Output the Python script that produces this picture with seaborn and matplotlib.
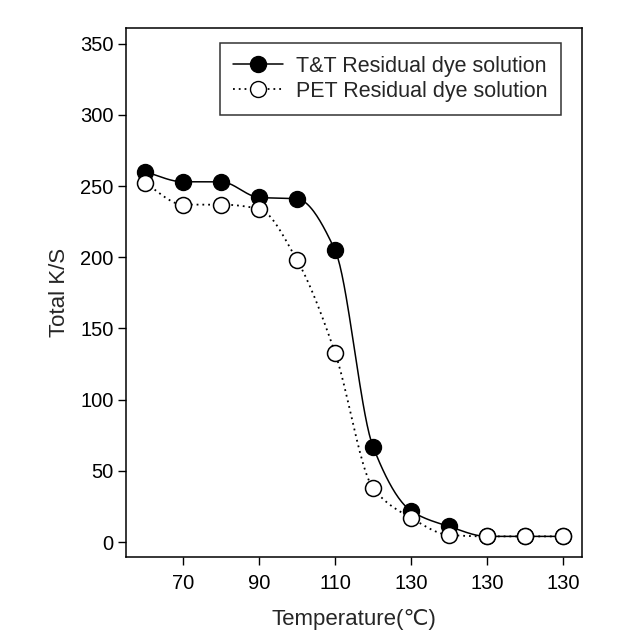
import numpy as np
import pandas as pd
import matplotlib
matplotlib.use("Agg")
import matplotlib.pyplot as plt
import seaborn as sns
from matplotlib.lines import Line2D

sns.set_style("ticks")
plt.rcParams['font.family'] = ['Liberation Sans', 'DejaVu Sans']

# data (12 sequential measurement steps)
steps = list(range(12))
tick_steps = [1, 3, 5, 7, 9, 11]
tick_labels = ["70", "90", "110", "130", "130", "130"]
tt_values = [260, 253, 253, 242, 241, 205, 67, 22, 11, 4, 4, 4]
pet_values = [252, 237, 237, 234, 198, 133, 38, 17, 5, 4, 4, 4]
series_names = ["T&T Residual dye solution", "PET Residual dye solution"]


def pchip(x, y, xs):
    x = np.asarray(x, float); y = np.asarray(y, float)
    h = np.diff(x); d = np.diff(y) / h
    m = np.zeros_like(y)
    for k in range(1, len(x) - 1):
        if d[k - 1] * d[k] > 0:
            w1 = 2 * h[k] + h[k - 1]; w2 = h[k] + 2 * h[k - 1]
            m[k] = (w1 + w2) / (w1 / d[k - 1] + w2 / d[k])
    m[0] = d[0]; m[-1] = d[-1]
    out = np.empty_like(xs)
    for i, xv in enumerate(xs):
        k = min(np.searchsorted(x, xv, side="right") - 1, len(x) - 2)
        t = (xv - x[k]) / h[k]
        h00 = 2 * t**3 - 3 * t**2 + 1; h10 = t**3 - 2 * t**2 + t
        h01 = -2 * t**3 + 3 * t**2; h11 = t**3 - t**2
        out[i] = h00 * y[k] + h10 * h[k] * m[k] + h01 * y[k + 1] + h11 * h[k] * m[k + 1]
    return out


fig = plt.figure(figsize=(6.22, 6.43), dpi=100)
ax = fig.add_axes([0.2026, 0.1337, 0.7331, 0.8228])

xs = np.linspace(0, 11, 400)
df_tt_line = pd.DataFrame({"x": xs, "y": pchip(steps, tt_values, xs)})
df_pet_line = pd.DataFrame({"x": xs, "y": pchip(steps, pet_values, xs)})
df_tt = pd.DataFrame({"x": steps, "y": tt_values})
df_pet = pd.DataFrame({"x": steps, "y": pet_values})

sns.lineplot(data=df_tt_line, x="x", y="y", ax=ax, color="black", lw=1.1, zorder=2)
sns.lineplot(data=df_pet_line, x="x", y="y", ax=ax, color="black", lw=1.3,
             linestyle=(0, (1, 2.2)), zorder=2)
ax.plot(df_tt.x, df_tt.y, 'o', ms=11.5, mfc='black', mec='black', zorder=3)
ax.plot(df_pet.x, df_pet.y, 'o', ms=11.5, mfc='white', mec='black', mew=1.1, zorder=4)

ax.set_xlim(-0.5, 11.5)
ax.set_ylim(-10.5, 361)
ax.set_xticks(tick_steps)
ax.set_xticklabels(tick_labels)
ax.set_yticks(range(0, 351, 50))
ax.tick_params(direction='out', length=6, width=1, labelsize=14.5, colors='black')
ax.tick_params(axis='y', pad=3)
ax.tick_params(axis='x', pad=6)
for s in ax.spines.values():
    s.set_visible(True); s.set_linewidth(1.1); s.set_color('black')

ax.set_xlabel("Temperature(℃)", fontsize=16, labelpad=12)
ax.set_ylabel("Total K/S", fontsize=16, labelpad=7)

handles = [
    Line2D([], [], color='black', lw=1.1, marker='o', ms=11.5, mfc='black', mec='black'),
    Line2D([], [], color='black', lw=1.3, linestyle=(0, (1, 2.2)), marker='o', ms=11.5,
           mfc='white', mec='black'),
]
leg = ax.legend(handles, series_names, loc='upper left', bbox_to_anchor=(0.206, 0.972),
                borderaxespad=0, fontsize=15.5, frameon=True, fancybox=False,
                edgecolor='black', handlelength=2.35, borderpad=0.6,
                labelspacing=0.2, handletextpad=0.6)
leg.get_frame().set_linewidth(1.1)

fig.savefig("out.png", dpi=100)
